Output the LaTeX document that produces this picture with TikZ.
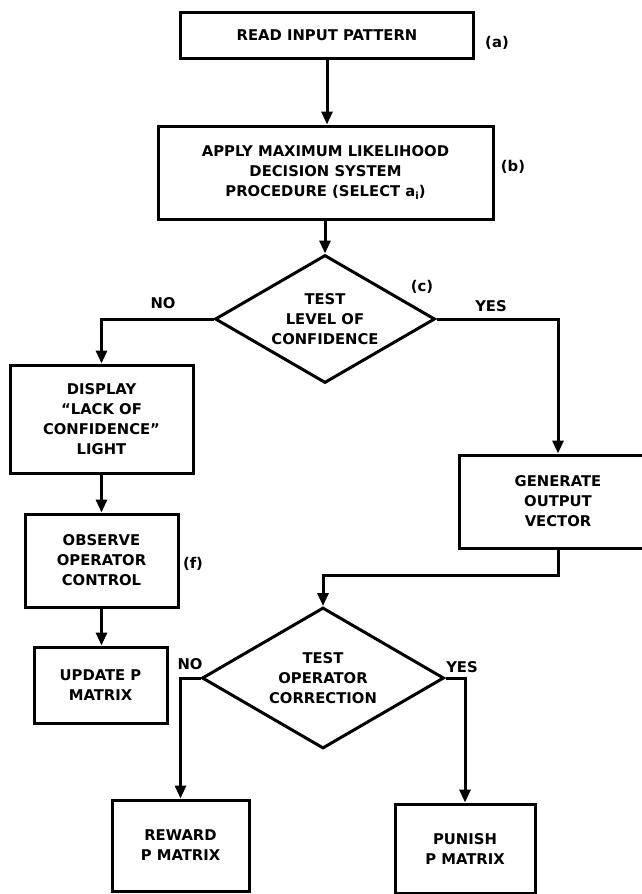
\documentclass[tikz,border=0pt]{standalone}
\usepackage{fontspec}
\setmainfont{DejaVu Sans}
\usetikzlibrary{shapes.geometric,arrows.meta}
\tikzset{
  every node/.style={font=\bfseries\fontsize{14.8}{20}\selectfont, align=center, inner sep=0pt},
  box/.style={draw, rectangle, line width=3pt},
  dec/.style={draw, diamond, aspect=1.7, line width=3pt},
  conn/.style={line width=3pt, -{Triangle[length=13pt,width=11pt]}},
  lbl/.style={}
}
\begin{document}
\begin{tikzpicture}[x=1pt,y=-1pt]
\useasboundingbox (0,0) rectangle (642,894);
\node[box, minimum width=293pt, minimum height=46pt] (a) at (327,35) {READ INPUT PATTERN};
\node[box, minimum width=335pt, minimum height=93pt] (b) at (325.5,172.5) {APPLY MAXIMUM LIKELIHOOD\\DECISION SYSTEM\\PROCEDURE (SELECT a\raisebox{-0.45ex}{\fontsize{10}{10}\selectfont i})};
\node[dec, minimum width=220pt, minimum height=128pt] (c) at (325,319) {TEST\\LEVEL OF\\CONFIDENCE};
\node[box, minimum width=183pt, minimum height=108pt] (disp) at (101.5,419) {DISPLAY\\“LACK OF\\CONFIDENCE”\\LIGHT};
\node[box, minimum width=153pt, minimum height=93pt] (obs) at (101.5,560.5) {OBSERVE\\OPERATOR\\CONTROL};
\node[box, minimum width=133pt, minimum height=76pt] (upd) at (100.5,685) {UPDATE P\\MATRIX};
\node[box, minimum width=198pt, minimum height=93pt] (gen) at (558,501.5) {GENERATE\\OUTPUT\\VECTOR};
\node[dec, minimum width=242pt, minimum height=141pt] (d) at (323,678) {TEST\\OPERATOR\\CORRECTION};
\node[box, minimum width=137pt, minimum height=91pt] (rew) at (180.5,845.5) {REWARD\\P MATRIX};
\node[box, minimum width=140pt, minimum height=89pt] (pun) at (465,848.5) {PUNISH\\P MATRIX};

\node[lbl] (la) at (497,43) {(a)};
\node[lbl] (lb) at (513,167) {(b)};
\node[lbl] (lc) at (422,287) {(c)};
\node[lbl] (lf) at (193,564) {(f)};
\node[lbl] (no1) at (163,303) {NO};
\node[lbl] (yes1) at (491,306) {YES};
\node[lbl] (no2) at (190,664) {NO};
\node[lbl] (yes2) at (462,667) {YES};

\coordinate (j) at (0,575);
\draw[conn] (a) -- (a |- b.north);
\draw[conn] (c.north |- b.south) -- (c.north);
\draw[conn] (c.west) -| (disp.north);
\draw[conn] (c.east) -| (gen.north);
\draw[conn] (disp) -- (disp |- obs.north);
\draw[conn] (obs) -- (obs |- upd.north);
\draw[conn] (gen.south) -- (gen.south |- j) -| (d.north);
\draw[conn] (d.west) -| (rew.north);
\draw[conn] (d.east) -| (pun.north);
\end{tikzpicture}
\end{document}
